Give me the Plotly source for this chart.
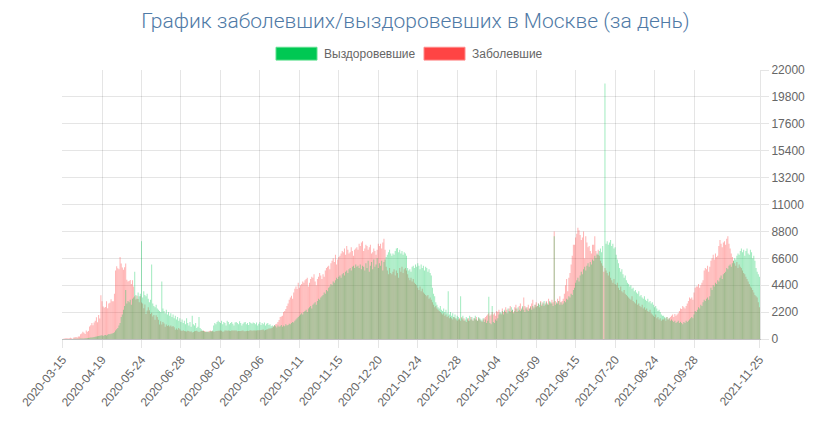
import pandas as pd
import plotly.graph_objects as go

# daily series, Moscow, 2020-03-15 .. 2021-11-25 (two days absent from the source)
start_date = "2020-03-15"
end_date = "2021-11-25"
missing_dates = ["2021-06-12", "2021-06-13"]

# Заболевшие (new cases per day)
cases = [
    # 2020-03 (from 15th)
    10, 20, 33, 55, 56, 50, 54, 100, 71, 28, 120, 136, 157, 114, 197, 212, 387,
    # 2020-04
    448, 595, 516, 416, 697, 591, 660, 1030, 1124, 1306, 1124, 1355, 1489, 1774, 1370,
    1959, 1679, 3570, 3083, 2649, 2548, 2612, 3083, 2522, 2902, 2957, 3257, 3093, 3086, 3703,
    # 2020-05
    5600, 5948, 5795, 5714, 6703, 6173, 5846, 5667, 5858, 6169, 4843, 4703, 4748, 4833, 4500, 4812,
    4291, 3505, 3238, 3545, 3274, 3012, 3500, 2988, 2913, 2516, 2830, 2054, 2330, 2595, 2345,
    # 2020-06
    2039, 2140, 1842, 1957, 1572, 1951, 1795, 1572, 1195, 1445, 1195, 1387, 1261, 1000, 1195,
    1065, 1124, 1029, 1100, 1000, 1065, 962, 763, 859, 752, 893, 800, 700, 651, 717,
    # 2020-07
    659, 637, 617, 673, 655, 591, 628, 532, 571, 638, 658, 680, 620, 577, 610, 648,
    645, 694, 656, 611, 572, 598, 647, 693, 650, 625, 605, 590, 663, 647, 678,
    # 2020-08
    680, 688, 674, 595, 611, 688, 695, 683, 691, 669, 646, 694, 686, 693, 686, 688,
    625, 651, 657, 658, 681, 691, 639, 625, 650, 667, 660, 700, 717, 683, 696,
    # 2020-09
    697, 703, 705, 712, 723, 725, 740, 757, 777, 705, 745, 780, 800, 850, 860,
    880, 920, 1050, 1100, 1200, 1250, 1400, 1560, 1800, 1850, 1900, 2200, 2300, 2450, 2700,
    # 2020-10
    2900, 3200, 3400, 3537, 3300, 3800, 4100, 4300, 4082, 4600, 4200, 4400, 4500, 4700, 4600, 4800,
    4900, 5000, 4300, 4600, 4900, 5100, 5000, 5300, 4700, 4400, 4900, 5100, 5400, 5200, 4900,
    # 2020-11
    5300, 5100, 5600, 5800, 5900, 6000, 5700, 6200, 6400, 6600, 6300, 6900, 6100, 6500, 6700,
    6800, 7000, 7200, 7100, 7400, 6900, 7600, 7300, 7000, 7100, 7500, 7200, 6800, 7300, 7400,
    # 2020-12
    7500, 7300, 7800, 7600, 7900, 8000, 7200, 7400, 7700, 7600, 7300, 7500, 7700, 7000, 7100, 7400,
    7200, 6900, 7300, 7800, 7600, 7800, 7400, 7900, 8200, 7300, 5900, 5600, 5300, 5800, 5400,
    # 2021-01
    5300, 5500, 5700, 5200, 5600, 5400, 5000, 5800, 5500, 5900, 5400, 5700, 5800, 5600, 5300, 5000,
    4800, 5000, 4700, 4900, 4600, 4500, 4400, 4200, 4000, 4300, 3900, 4100, 3800, 3700, 3600,
    # 2021-02
    3500, 3600, 3300, 3400, 3200, 3000, 2800, 2600, 2700, 2500, 2400, 2300, 2200, 2100,
    2000, 2100, 1900, 2000, 1800, 1900, 1700, 1800, 1700, 1600, 1800, 1700, 1600, 1500,
    # 2021-03
    1600, 1700, 1500, 1800, 1600, 1700, 1500, 1400, 1600, 1700, 1500, 1800, 1600, 1500, 1700, 1600,
    1800, 1500, 1700, 1600, 1500, 1400, 1600, 1700, 1800, 1900, 2000, 2100, 1900, 2000, 2200,
    # 2021-04
    2000, 2100, 1900, 2300, 2200, 2400, 2100, 2000, 2500, 2200, 2300, 2600, 2400, 2100, 2500,
    2700, 2300, 2400, 2200, 2600, 2800, 2500, 2300, 2700, 2900, 2400, 2600, 3400, 2700, 2500,
    # 2021-05
    2600, 2800, 2500, 2700, 2900, 3200, 2600, 2800, 3000, 2700, 2900, 2600, 3100, 2800, 3000, 2700,
    2900, 3100, 2800, 3300, 3000, 2900, 3200, 3000, 8800, 3100, 2900, 3300, 3100, 3500, 3000,
    # 2021-06 (12th and 13th absent)
    3100, 3300, 3700, 4400, 4900, 3900, 5000, 5400, 6100, 6800, 7700,
    7700, 8300, 8600, 9100, 8900, 8500, 8100, 8300, 8800, 6600, 8400, 7900, 7500, 7600, 7200, 7000, 7700,
    # 2021-07
    7700, 8400, 7200, 6900, 7300, 6800, 6400, 6200, 6000, 5500, 5800, 5600, 5400, 5200, 5500, 5000,
    4800, 4600, 4900, 4500, 4400, 4600, 4200, 4000, 4300, 3900, 3800, 4000, 3700, 3600, 3500,
    # 2021-08
    3400, 3300, 3200, 3500, 3100, 3000, 2900, 3200, 2800, 2900, 2700, 2600, 2800, 2500, 2600, 2400,
    2500, 2300, 2200, 2400, 2100, 2000, 1900, 1800, 2000, 1700, 1800, 1600, 1700, 1500, 1600,
    # 2021-09
    1600, 1700, 1500, 1800, 1600, 1700, 1800, 1900, 2000, 1800, 2050, 1900, 2000, 2100, 2300,
    2500, 2450, 2700, 2600, 2500, 2700, 2900, 3100, 3400, 3300, 3400, 3200, 3800, 4200, 4300,
    # 2021-10
    4300, 4500, 4200, 4400, 4600, 4800, 5600, 5800, 5700, 6000, 5500, 5900, 6400, 6600, 6900, 6500,
    7000, 6700, 6800, 7600, 8100, 7800, 7500, 7900, 8000, 7700, 8200, 8400, 7800, 7400, 7000,
    # 2021-11 (to 25th)
    6700, 6400, 6200, 6000, 6300, 5800, 6100, 5900, 5800, 5600, 5400, 5300, 5100,
    4900, 4700, 4500, 4300, 4200, 4000, 3800, 3600, 3500, 3400, 3000, 2600,
]

# Выздоровевшие (recovered per day)
recovered = [
    # 2020-03 (from 15th)
    0, 0, 0, 0, 2, 3, 4, 5, 8, 10, 12, 15, 18, 20, 25, 30, 35,
    # 2020-04
    40, 45, 50, 60, 70, 80, 90, 100, 120, 130, 150, 170, 190, 200, 220,
    240, 260, 280, 300, 250, 310, 330, 290, 350, 400, 380, 420, 450, 500, 550,
    # 2020-05
    700, 800, 900, 1100, 1300, 1800, 2000, 2400, 2700, 4000, 2900, 3100, 3000, 3200, 2800, 3300,
    3400, 5500, 3600, 3300, 3800, 3500, 3700, 8000, 3400, 3900, 3600, 3500, 3700, 3300, 3000,
    # 2020-06
    3200, 6100, 2900, 2700, 2600, 2800, 2500, 2400, 2300, 2200, 4700, 2500, 2300, 2100, 2400,
    2000, 2200, 1900, 2100, 1800, 2000, 1700, 1900, 1600, 1800, 1500, 1700, 1400, 1600, 1300,
    # 2020-07
    1500, 1200, 1700, 1300, 1100, 1400, 1000, 1900, 1200, 1100, 1300, 900, 1000, 1800, 900, 800,
    700, 650, 600, 580, 620, 600, 560, 640, 610, 700, 1100, 1300, 1200, 1400, 1500,
    # 2020-08
    1400, 1300, 1500, 1200, 1400, 1300, 1100, 1500, 1400, 1200, 1300, 1400, 1250, 1100, 1350, 1400,
    1300, 1200, 1450, 1300, 1100, 1250, 1350, 1400, 1200, 1300, 1150, 1400, 1300, 1250, 1350,
    # 2020-09
    1300, 1200, 1350, 1100, 1250, 1400, 1150, 1300, 1200, 1350, 1100, 1250, 1300, 1150, 1200,
    1050, 1100, 1000, 1150, 1050, 950, 1100, 1000, 1050, 1150, 1000, 1100, 1050, 1200, 1100,
    # 2020-10
    1150, 1250, 1200, 1300, 1400, 1350, 1500, 1600, 1700, 1800, 1900, 2000, 2100, 2000, 2200, 2300,
    2400, 2200, 2500, 2600, 2700, 2500, 2800, 2900, 3000, 2800, 3100, 3300, 3200, 3400, 3500,
    # 2020-11
    3600, 3800, 3700, 4000, 3900, 4200, 4300, 4500, 4400, 4700, 4600, 4800, 5000, 4900, 5100,
    5200, 5000, 5300, 5400, 5200, 5500, 5600, 5400, 5700, 5800, 5600, 5900, 6000, 5800, 6100,
    # 2020-12
    5900, 6000, 5800, 6100, 5700, 6000, 5900, 5600, 6200, 5800, 6400, 5500, 6000, 6300, 5700, 6500,
    5900, 6100, 6600, 5800, 6200, 6000, 6400, 5600, 6300, 6500, 6700, 6900, 7100, 7300, 7000,
    # 2021-01
    6800, 7000, 6900, 7200, 7400, 7450, 7100, 7300, 7000, 7200, 6900, 7100, 7000, 6800, 5800, 5600,
    5700, 5500, 5900, 6000, 5800, 6100, 5900, 6200, 6000, 5700, 6100, 5800, 6000, 5600, 5900,
    # 2021-02
    5800, 5500, 5700, 5400, 5200, 4200, 3700, 3500, 3000, 2800, 2600, 2500, 2700, 2400,
    2300, 2500, 2200, 2400, 2100, 3900, 2000, 2200, 1900, 2100, 1800, 2000, 1700, 1900,
    # 2021-03
    1800, 1600, 3500, 1700, 1900, 1500, 1600, 1800, 1700, 1500, 1900, 1600, 1800, 1500, 1700, 1900,
    1600, 1500, 1800, 1700, 1600, 1500, 1700, 1400, 1600, 1300, 1500, 3450, 1300, 1200, 2700,
    # 2021-04
    1400, 1300, 1600, 1500, 1700, 2000, 2200, 2100, 2300, 2000, 2400, 2200, 2100, 2500, 2300,
    2200, 2600, 2400, 2100, 2300, 2500, 2200, 2600, 2400, 2300, 2500, 2700, 2400, 2200, 2600,
    # 2021-05
    2400, 2300, 2500, 2600, 2400, 2700, 2500, 2800, 2600, 2700, 2900, 2800, 3000, 2700, 2900, 3100,
    2800, 3000, 2900, 2800, 3100, 3000, 2900, 2700, 8400, 2800, 3000, 2900, 3100, 2800, 3000,
    # 2021-06 (12th and 13th absent)
    2800, 2900, 3100, 3000, 3300, 3200, 3500, 3400, 3700, 3600, 4000,
    4200, 4600, 4800, 5000, 4700, 5200, 5500, 5300, 5700, 5900, 5600, 6000, 6200, 5900, 6300, 6100, 6500,
    # 2021-07
    6400, 6800, 6600, 7000, 6900, 7200, 7400, 7100, 7600, 0, 20900, 7800, 8000, 7700, 7900, 8100,
    7600, 7800, 7400, 7500, 6900, 6500, 6200, 5800, 5500, 5700, 5300, 5000, 5200, 4800, 4600,
    # 2021-08
    4500, 4300, 4400, 4100, 4200, 3900, 4000, 3800, 3700, 3900, 3500, 3600, 3400, 3300, 3500, 3200,
    3100, 3300, 3000, 3100, 2900, 3000, 2800, 2600, 2700, 2500, 2300, 2400, 2200, 2000, 1900,
    # 2021-09
    1900, 1800, 1700, 1800, 1600, 1700, 1500, 1600, 1500, 1400, 1500, 1300, 1400, 1500, 1300,
    1400, 1300, 1200, 1400, 1300, 1500, 1400, 1500, 1600, 1700, 1800, 1700, 2000, 2300, 2200,
    # 2021-10
    2400, 2600, 2500, 2800, 2700, 3000, 3200, 3100, 3300, 3400, 3200, 3500, 4200, 4000, 4400, 4300,
    4600, 4500, 4800, 4700, 5000, 5200, 4900, 5300, 5400, 5500, 5800, 5700, 6000, 6100, 5900,
    # 2021-11 (to 25th)
    6200, 6400, 6600, 6500, 6800, 7000, 6900, 7200, 7400, 7100, 7300, 6800, 7200,
    7400, 7000, 6900, 7300, 7100, 6600, 6800, 6400, 5800, 5500, 5300, 5100,
]

y_ticks = [0, 2200, 4400, 6600, 8800, 11000, 13200, 15400, 17600, 19800, 22000]

days = pd.date_range(start_date, end_date, freq="D")
days = [d.strftime("%Y-%m-%d") for d in days if d.strftime("%Y-%m-%d") not in missing_dates]
assert len(days) == len(cases) == len(recovered), (len(days), len(cases), len(recovered))

# every 35th label is shown, plus the last one
x_ticks = days[::35][:-1] + [days[-1]]

W, H = 831, 421
L, R, T, B = 62, 71, 70, 79


def px(x):
    return (x - L) / (W - L - R)


def py(y):
    return (H - B - y) / (H - T - B)


fig = go.Figure()
fig.add_trace(go.Bar(x=days, y=cases, name="Заболевшие",
                     marker=dict(color="rgba(255,68,68,0.40)", line=dict(width=0)),
                     hoverinfo="x+y"))
fig.add_trace(go.Bar(x=days, y=recovered, name="Выздоровевшие",
                     marker=dict(color="rgba(0,200,83,0.37)", line=dict(width=0)),
                     hoverinfo="x+y"))

grid = "rgba(0,0,0,0.1)"
fig.update_layout(
    width=W, height=H,
    margin=dict(l=L, r=R, t=T, b=B, pad=0),
    barmode="overlay", bargap=0.1,
    showlegend=False,
    plot_bgcolor="white", paper_bgcolor="white",
    font=dict(family="Liberation Sans, Arial, sans-serif", size=12, color="#666666"),
    title=dict(text="График заболевших/выздоровевших в Москве (за день)",
               x=0.5, xanchor="center", y=1 - 21 / H, yanchor="middle",
               font=dict(family="Roboto", size=21, color="#4f7aa6", weight=300)),
    xaxis=dict(type="category", range=[-0.5, len(days) - 0.5],
               tickmode="array", tickvals=x_ticks, ticktext=x_ticks, tickangle=-50,
               showgrid=True, gridcolor=grid, gridwidth=1,
               ticks="outside", ticklen=8, tickcolor=grid,
               showline=True, linecolor="rgba(0,0,0,0.25)", linewidth=1,
               tickfont=dict(size=12, color="#666666")),
    yaxis=dict(side="right", range=[0, 22000], tickmode="array", tickvals=y_ticks,
               ticktext=[str(v) for v in y_ticks],
               showgrid=True, gridcolor=grid, gridwidth=1, zeroline=False,
               ticks="outside", ticklen=8, tickcolor=grid,
               showline=True, linecolor=grid,
               tickfont=dict(size=12, color="#666666")),
)

# legend drawn like the original: wide colour boxes with labels
legend_items = [("Выздоровевшие", "#00c853", "#5ee08e", 276, 322),
                ("Заболевшие", "#ff4444", "#ff8a8a", 424, 470)]
for label, fill, edge, bx, tx in legend_items:
    fig.add_shape(type="rect", xref="paper", yref="paper",
                  x0=px(bx), x1=px(bx + 41), y0=py(60), y1=py(47),
                  fillcolor=fill, line=dict(color=edge, width=1))
    fig.add_annotation(text=label, xref="paper", yref="paper", x=px(tx), y=py(53.5),
                       xanchor="left", yanchor="middle", showarrow=False,
                       font=dict(size=12, color="#666666"))

# the page body has a default margin; drop it so the figure sits at the window corner
fig.write_html("out.html", config={"displayModeBar": False},
               post_script="document.body.style.margin='0';")
